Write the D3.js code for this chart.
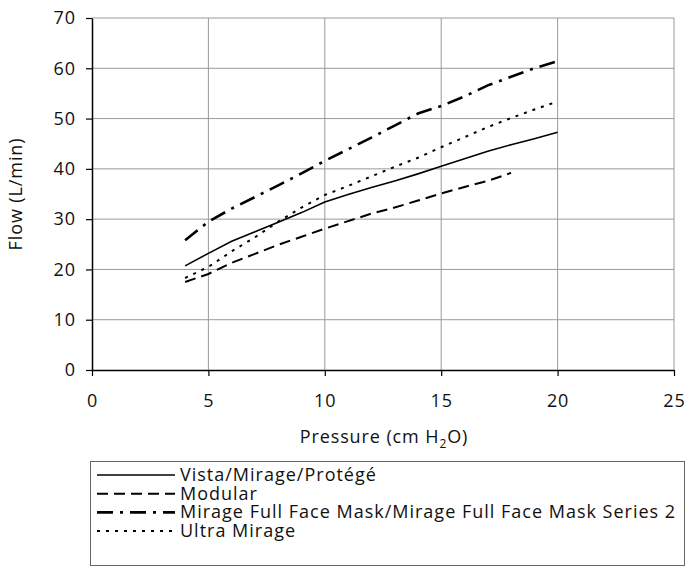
<!DOCTYPE html>
<html>
<head>
<meta charset="utf-8">
<script src="https://cdn.jsdelivr.net/npm/d3@7/dist/d3.min.js"></script>
<style>
  body { margin: 0; background: #fff; }
  svg { font-family: "Open Sans", sans-serif; }
  text { letter-spacing: 0.9px; }
  .legend text { letter-spacing: 1px; }
</style>
</head>
<body>
<svg id="chart" width="688" height="568"></svg>
<script>
// pressure steps (cm H2O)
var pressure = [4,5,6,7,8,9,10,11,12,13,14,15,16,17,18,19,20];
var pressureModular = [4,5,6,7,8,9,10,11,12,13,14,15,16,17,18];

// flow values (L/min)
var vista = [20.7,23.2,25.6,27.5,29.4,31.3,33.4,34.9,36.3,37.6,39.0,40.5,42.0,43.5,44.8,46.0,47.3];
var modular = [17.5,19.1,21.3,23.1,24.9,26.5,28.1,29.6,31.1,32.3,33.7,35.1,36.4,37.6,39.2];
var fullFace = [25.8,29.5,32.1,34.4,36.7,39.1,41.6,43.9,46.2,48.6,51.0,52.5,54.4,56.6,58.3,60.0,61.4];
var ultra = [18.3,20.5,23.6,26.4,29.5,32.3,34.8,36.6,38.5,40.4,42.2,44.3,46.3,48.3,50.1,51.8,53.4];

var seriesNames = ["Vista/Mirage/Protégé", "Modular",
  "Mirage Full Face Mask/Mirage Full Face Mask Series 2", "Ultra Mirage"];

var xTicks = [0,5,10,15,20,25];
var yTicks = [0,10,20,30,40,50,60,70];

var margin = {top: 18, right: 14, bottom: 198, left: 92},
    width = 688 - margin.left - margin.right,
    height = 568 - margin.top - margin.bottom;

var fs = 18;

var svg = d3.select("#chart");
var g = svg.append("g").attr("transform", "translate(" + margin.left + "," + margin.top + ")");

var x = d3.scaleLinear().domain([0, 25]).range([0, width]);
var y = d3.scaleLinear().domain([0, 70]).range([height, 0]);

// grid
g.append("g").selectAll("line").data(xTicks.slice(1)).enter().append("line")
  .attr("x1", d => x(d)).attr("x2", d => x(d)).attr("y1", 0).attr("y2", height)
  .attr("stroke", "#9a9a9a").attr("stroke-width", 1);
g.append("g").selectAll("line").data(yTicks.slice(1)).enter().append("line")
  .attr("x1", 0).attr("x2", width).attr("y1", d => y(d)).attr("y2", d => y(d))
  .attr("stroke", "#9a9a9a").attr("stroke-width", 1);

// axes
var xAxis = g.append("g").attr("transform", "translate(0," + height + ")")
  .call(d3.axisBottom(x).tickValues(xTicks).tickSize(6).tickPadding(18).tickSizeOuter(0));
var yAxis = g.append("g")
  .call(d3.axisLeft(y).tickValues(yTicks).tickSize(6).tickPadding(10).tickSizeOuter(0));
[xAxis, yAxis].forEach(function(a) {
  a.select(".domain").attr("stroke", "#000").attr("stroke-width", 1.5);
  a.selectAll(".tick line").attr("stroke", "#000").attr("stroke-width", 1.2);
  a.selectAll("text").attr("font-size", fs).attr("font-family", "Open Sans").attr("fill", "#111");
});

// line styles
var styles = [
  {dash: null, w: 1.6},
  {dash: "11,6", w: 2},
  {dash: "16,7,3,7", w: 2.6},
  {dash: "3,6", w: 2}
];
var allSeries = [
  pressure.map((p, i) => [p, vista[i]]),
  pressureModular.map((p, i) => [p, modular[i]]),
  pressure.map((p, i) => [p, fullFace[i]]),
  pressure.map((p, i) => [p, ultra[i]])
];
var line = d3.line().x(d => x(d[0])).y(d => y(d[1]));

allSeries.forEach(function(s, i) {
  g.append("path").datum(s).attr("d", line)
    .attr("fill", "none").attr("stroke", "#000")
    .attr("stroke-width", styles[i].w)
    .attr("stroke-dasharray", styles[i].dash);
});

// axis titles
svg.append("text").attr("x", 384).attr("y", 443)
  .attr("text-anchor", "middle").attr("font-size", fs).attr("fill", "#111")
  .html('Pressure (cm H<tspan font-size="12" dy="5">2</tspan><tspan dy="-5">O)</tspan>');
svg.append("text").attr("transform", "translate(22," + (margin.top + height / 2) + ") rotate(-90)")
  .attr("text-anchor", "middle").attr("font-size", fs).attr("fill", "#111")
  .text("Flow (L/min)");

// legend
var leg = svg.append("g").attr("class", "legend");
leg.append("rect").attr("x", 90.5).attr("y", 461.5).attr("width", 594).attr("height", 104)
  .attr("fill", "none").attr("stroke", "#666").attr("stroke-width", 1);
seriesNames.forEach(function(n, i) {
  var ly = 475 + i * 18.7;
  leg.append("line").attr("x1", 97).attr("x2", 175).attr("y1", ly).attr("y2", ly)
    .attr("stroke", "#000").attr("stroke-width", styles[i].w)
    .attr("stroke-dasharray", styles[i].dash);
  leg.append("text").attr("x", 180).attr("y", ly + 6).attr("font-size", fs)
    .attr("fill", "#111").text(n);
});
</script>
</body>
</html>
